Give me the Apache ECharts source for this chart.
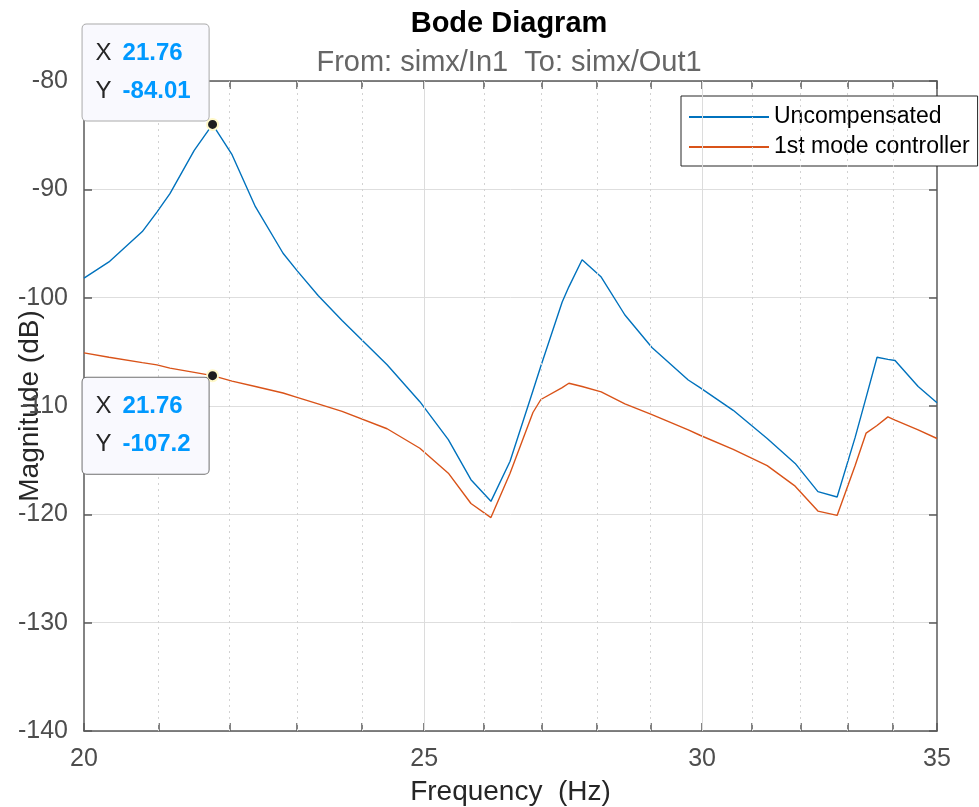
<!DOCTYPE html>
<html>
<head>
<meta charset="utf-8">
<script src="https://cdn.jsdelivr.net/npm/echarts@6/dist/echarts.min.js"></script>
<style>
    html, body {margin: 0; padding: 0; background: #fff;}
    #bode {width: 979px; height: 807px;}
</style>
</head>
<body>
<div id="bode"></div>
<script>
//*************** data *******************************
// frequency points (Hz)
var freq = [20.00, 20.33, 20.78, 20.98, 21.16, 21.50, 21.76, 22.04, 22.38, 22.79,
    23.00, 23.32, 23.69, 24.40, 24.93, 25.40, 25.78, 26.12, 26.45, 26.85,
    26.99, 27.37, 27.49, 27.73, 28.08, 28.52, 29.03, 29.73, 29.96, 30.62,
    31.31, 31.89, 32.37, 32.78, 33.17, 33.41, 33.65, 33.89, 34.05, 34.57, 35.00];

// magnitude (dB)
var mag_uncomp = [-98.2, -96.7, -93.9, -92.1, -90.4, -86.4, -84.01, -86.8, -91.6, -95.9,
    -97.5, -99.8, -102.1, -106.2, -109.6, -113.1, -116.8, -118.8, -115.1, -108.6,
    -106.3, -100.4, -99.0, -96.5, -98.1, -101.6, -104.6, -107.6, -108.3, -110.4,
    -113.0, -115.3, -117.9, -118.4, -112.9, -109.2, -105.5, -105.7, -105.8, -108.2, -109.7];

var mag_ctrl = [-105.1, -105.5, -106.0, -106.2, -106.5, -106.9, -107.2, -107.7, -108.2, -108.8,
    -109.2, -109.8, -110.5, -112.1, -113.9, -116.2, -119.0, -120.3, -116.2, -110.6,
    -109.4, -108.3, -107.9, -108.2, -108.7, -109.8, -110.8, -112.2, -112.7, -114.0,
    -115.5, -117.4, -119.7, -120.1, -115.5, -112.5, -111.8, -111.0, -111.3, -112.2, -113.0];

var series_names = ['Uncompensated', '1st mode controller'];

// axis ticks
var x_labels = [20, 25, 30, 35];
var x_ticks = [20, 21, 22, 23, 24, 25, 26, 27, 28, 29, 30, 31, 32, 33, 34, 35];
var x_major_grid = [25, 30];
var x_minor_grid = [21, 22, 23, 24, 26, 27, 28, 29, 31, 32, 33, 34];

// data tip frequency
var tip_freq = 21.76;

//*************** chart ******************************
var font = '"Liberation Sans", Arial, Helvetica, sans-serif';
var axis_color = '#5a5a5a';
var tip_idx = freq.indexOf(tip_freq);

function pairs(mags) {
    return freq.map(function (f, i) { return [f, mags[i]]; });
}

// data tip box: above-left or below-left of the point
function tip(mags, above) {
    return {
        symbol: 'circle',
        symbolSize: 11,
        silent: true,
        itemStyle: {color: '#1e1e1e', borderColor: '#fff8c8', borderWidth: 2},
        label: {
            show: true,
            position: 'inside',
            align: 'left',
            verticalAlign: above ? 'bottom' : 'top',
            offset: above ? [-130, -4] : [-130, 2],
            backgroundColor: '#f9f9fe',
            borderColor: above ? '#aaaaaa' : '#707070',
            borderWidth: 1,
            borderRadius: 4,
            padding: [10, 18, 10, 13],
            formatter: function (p) {
                return '{k|X}{v|' + p.data.coord[0] + '}\n{k|Y}{v|' + p.data.coord[1] + '}';
            },
            rich: {
                k: {fontSize: 24, color: '#262626', fontFamily: font, lineHeight: 38, width: 27},
                v: {fontSize: 24, color: '#0099ff', fontWeight: 'bold', fontFamily: font, lineHeight: 38}
            }
        },
        data: [{coord: [freq[tip_idx], mags[tip_idx]]}]
    };
}

var grid_lines = x_minor_grid.map(function (v) {
    return {xAxis: v, lineStyle: {type: [2, 4], color: '#d2d2d2', width: 1}};
}).concat(x_major_grid.map(function (v) {
    return {xAxis: v, lineStyle: {type: 'solid', color: '#dcdcdc', width: 1}};
}));

var x_axis_base = {
    type: 'log',
    logBase: 10,
    min: 20,
    max: 35,
    axisLine: {show: true, onZero: false, lineStyle: {color: axis_color, width: 1.5}},
    axisTick: {show: true, inside: true, length: 8, customValues: x_ticks,
        lineStyle: {color: axis_color, width: 1.5}},
    minorTick: {show: false},
    splitLine: {show: false},
    minorSplitLine: {show: false}
};

var y_axis_base = {
    type: 'value',
    min: -140,
    max: -80,
    interval: 10,
    axisLine: {show: true, onZero: false, lineStyle: {color: axis_color, width: 1.5}},
    axisTick: {show: true, inside: true, length: 8, lineStyle: {color: axis_color, width: 1.5}}
};

var bode_chart = echarts.init(document.getElementById('bode'));
bode_chart.setOption({
    animation: false,
    backgroundColor: '#fff',
    title: {
        text: 'Bode Diagram',
        subtext: 'From: simx/In1  To: simx/Out1',
        left: 504,
        textAlign: 'center',
        top: 2,
        itemGap: 6,
        textStyle: {fontSize: 29, fontWeight: 'bold', color: '#000', fontFamily: font, lineHeight: 34},
        subtextStyle: {fontSize: 29, color: '#666', fontFamily: font, lineHeight: 32}
    },
    legend: {
        orient: 'vertical',
        left: 681,
        top: 96,
        data: series_names,
        icon: 'rect',
        itemWidth: 80,
        itemHeight: 2,
        itemGap: 6,
        padding: [9, 8, 7, 8],
        backgroundColor: '#fff',
        borderColor: '#262626',
        borderWidth: 1,
        borderRadius: 0,
        selectedMode: false,
        textStyle: {fontSize: 23, color: '#000', fontFamily: font, lineHeight: 24}
    },
    grid: {left: 84, top: 81, width: 853, height: 650, containLabel: false, outerBoundsMode: 'none'},
    xAxis: [
        Object.assign({}, x_axis_base, {
            position: 'bottom',
            name: 'Frequency  (Hz)',
            nameLocation: 'middle',
            nameGap: 47,
            nameMoveOverlap: false,
            nameTextStyle: {fontSize: 28, color: '#262626', fontFamily: font},
            axisLabel: {show: true, customValues: x_labels, margin: 16, fontSize: 25,
                color: '#4d4d4d', fontFamily: font}
        }),
        Object.assign({}, x_axis_base, {
            position: 'top',
            axisLabel: {show: false}
        })
    ],
    yAxis: [
        Object.assign({}, y_axis_base, {
            position: 'left',
            name: 'Magnitude (dB)',
            nameLocation: 'middle',
            nameGap: 40,
            nameMoveOverlap: false,
            nameTextStyle: {fontSize: 28, color: '#262626', fontFamily: font},
            axisLabel: {margin: 16, fontSize: 25, color: '#4d4d4d', fontFamily: font},
            splitLine: {show: true, lineStyle: {color: '#dedede', width: 1}}
        }),
        Object.assign({}, y_axis_base, {
            position: 'right',
            axisLabel: {show: false},
            splitLine: {show: false}
        })
    ],
    series: [
        {
            name: 'grid',
            type: 'line',
            data: [],
            z: 1,
            markLine: {silent: true, symbol: ['none', 'none'], label: {show: false}, data: grid_lines}
        },
        {
            name: series_names[0],
            type: 'line',
            data: pairs(mag_uncomp),
            symbol: 'none',
            z: 3,
            itemStyle: {color: '#0072bd'},
            lineStyle: {color: '#0072bd', width: 1.4},
            markPoint: tip(mag_uncomp, true)
        },
        {
            name: series_names[1],
            type: 'line',
            data: pairs(mag_ctrl),
            symbol: 'none',
            z: 3,
            itemStyle: {color: '#d95319'},
            lineStyle: {color: '#d95319', width: 1.4},
            markPoint: tip(mag_ctrl, false)
        }
    ]
});
</script>
</body>
</html>
